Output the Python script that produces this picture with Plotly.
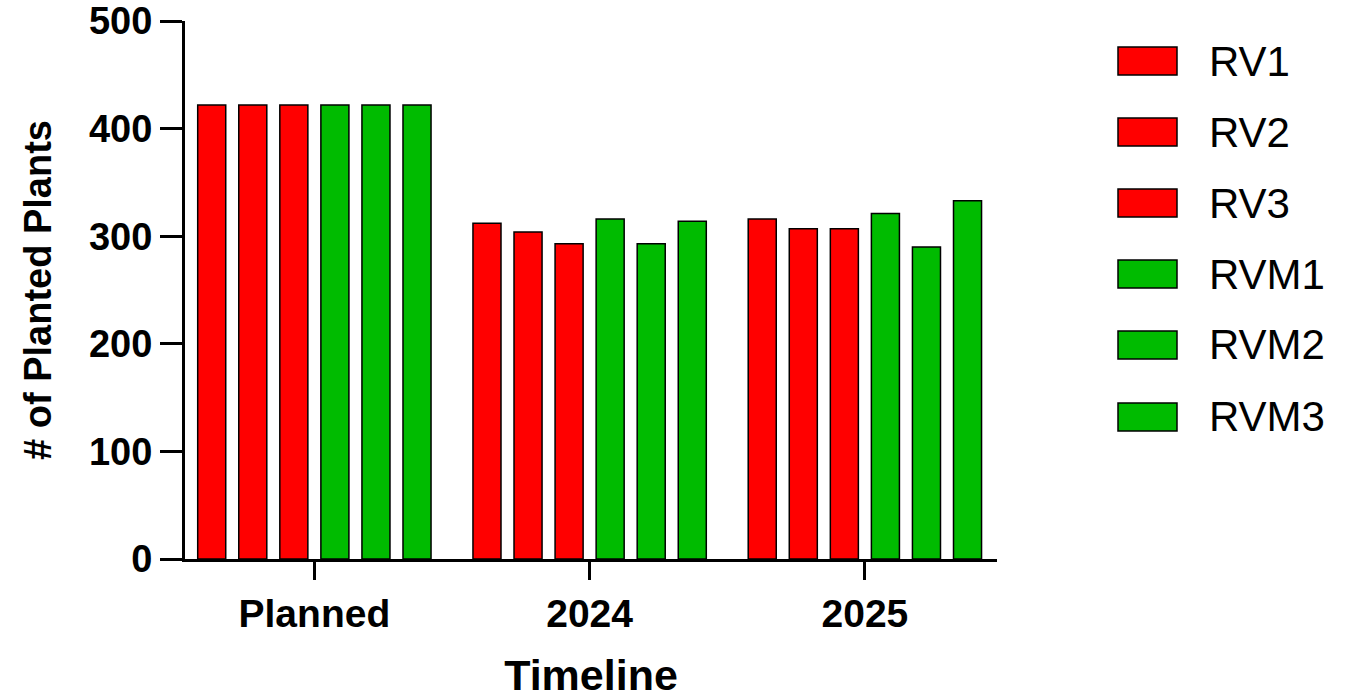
import plotly.graph_objects as go

categories = ["Planned", "2024", "2025"]
series_names = ["RV1", "RV2", "RV3", "RVM1", "RVM2", "RVM3"]
rv1 = [422, 312, 316]
rv2 = [422, 304, 307]
rv3 = [422, 293, 307]
rvm1 = [422, 316, 321]
rvm2 = [422, 293, 290]
rvm3 = [422, 314, 333]
series_values = [rv1, rv2, rv3, rvm1, rvm2, rvm3]
y_ticks = [0, 100, 200, 300, 400, 500]

RED = "#FF0000"
GREEN = "#00BB00"
colors = [RED, RED, RED, GREEN, GREEN, GREEN]

W, H = 1345, 699
L, T = 185, 21
PW, PH = 812, 538
R = W - L - PW
B = H - T - PH

fig = go.Figure()
for name, vals, col in zip(series_names, series_values, colors):
    fig.add_trace(go.Bar(
        x=categories, y=vals, name=name,
        marker=dict(color=col, line=dict(color="black", width=1.5)),
        showlegend=False,
    ))

FONT = "Liberation Sans, Arial, sans-serif"

fig.update_layout(
    width=W, height=H,
    margin=dict(l=L, r=R, t=T, b=B, autoexpand=False),
    paper_bgcolor="white", plot_bgcolor="white",
    barmode="group", bargap=0.105, bargroupgap=0.317,
    font=dict(family=FONT, color="black"),
)
fig.update_xaxes(
    type="category", range=[-0.47, 2.48],
    showline=True, linecolor="black", linewidth=3,
    ticks="outside", ticklen=18, tickwidth=3, tickcolor="black",
    tickfont=dict(size=39, family=FONT, weight="bold"),
    title=dict(text="<b>Timeline</b>", font=dict(size=43), standoff=28),
    showgrid=False, zeroline=False,
)
fig.update_yaxes(
    range=[0, 500], tickvals=y_ticks,
    showline=True, linecolor="black", linewidth=3,
    ticks="outside", ticklen=22, tickwidth=3, tickcolor="black",
    tickfont=dict(size=38, family=FONT, weight="bold"),
    ticklabeloverflow="allow",
    title=dict(text="<b># of Planted Plants</b>", font=dict(size=38), standoff=26),
    showgrid=False, zeroline=False,
)

# Custom legend (swatches + labels)
leg_y = [61, 132, 203, 274, 345, 417]
sw_x0, sw_x1, sw_h = 1118, 1177, 28
def px2x(px):
    return (px - L) / PW
def py2y(py):
    return (T + PH - py) / PH
for name, col, cy in zip(series_names, colors, leg_y):
    fig.add_shape(type="rect", xref="paper", yref="paper",
                  x0=px2x(sw_x0), x1=px2x(sw_x1),
                  y0=py2y(cy + sw_h / 2), y1=py2y(cy - sw_h / 2),
                  fillcolor=col, line=dict(color="black", width=1.5))
    fig.add_annotation(xref="paper", yref="paper", x=px2x(1207), y=py2y(cy),
                       xanchor="left", yanchor="middle", showarrow=False,
                       text=name, font=dict(size=42, family=FONT, color="black"))

fig.write_html(
    "out.html",
    config={"displayModeBar": False},
    post_script="document.body.style.margin='0';document.body.style.overflow='hidden';",
)
